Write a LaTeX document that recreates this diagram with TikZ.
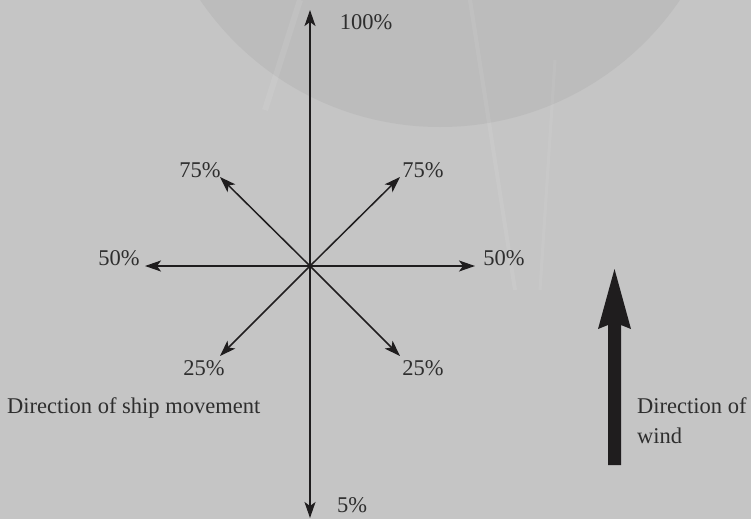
\documentclass[tikz,border=0pt]{standalone}
\usepackage{fontspec}
\setmainfont{Liberation Serif}
\usetikzlibrary{arrows.meta}
\definecolor{bg}{HTML}{C5C5C5}
\definecolor{sail}{HTML}{BCBCBC}
\definecolor{ink}{HTML}{1F1D1E}
\definecolor{txt}{HTML}{2E2E2E}
\tikzset{
  thinarrow/.style={draw=ink, line width=1.5pt, -{Stealth[length=16pt,width=11pt,inset=4pt]}},
  pct/.style={text=txt, inner sep=0pt, font=\fontsize{22.5}{26}\selectfont},
  caption/.style={text=txt, inner sep=0pt, font=\fontsize{22.5}{26}\selectfont, anchor=base west}
}
\begin{document}
\begin{tikzpicture}[x=1pt,y=-1pt]
\useasboundingbox (0,0) rectangle (751,519);
% background
\fill[bg] (0,0) rectangle (751,519);
\begin{scope}
\clip (0,0) rectangle (751,519);
\fill[sail] (440,-163) circle (290);
\draw[white,opacity=0.08,line width=6pt] (300,0) -- (265,110);
\draw[white,opacity=0.07,line width=4pt] (470,0) -- (515,290);
\draw[white,opacity=0.06,line width=3pt] (555,60) -- (540,290);
\end{scope}
% geometry
\coordinate (c) at (310,266);
\coordinate (n) at (310,10);
\coordinate (s) at (310,518);
\coordinate (e) at (475,266);
\coordinate (w) at (145,266);
\coordinate (ne) at (400,177);
\coordinate (nw) at (220,177);
\coordinate (se) at (400,356);
\coordinate (sw) at (220,356);
\foreach \t in {n,s,e,w,ne,nw,se,sw} \draw[thinarrow] (c) -- (\t);
% labels
\node[pct] (l100) at (366,22) {100\%};
\node[pct] (l75l) at (200,170) {75\%};
\node[pct] (l75r) at (423,170) {75\%};
\node[pct] (l50l) at (119,258) {50\%};
\node[pct] (l50r) at (504,258) {50\%};
\node[pct] (l25l) at (204,368) {25\%};
\node[pct] (l25r) at (423,368) {25\%};
\node[pct] (l5) at (352,505) {5\%};
\node[caption] (ship) at (7,413) {Direction of ship movement};
% wind arrow
\fill[ink] (614.5,269) -- (631,329) -- (621,325) -- (621,465) -- (608,465) -- (608,325) -- (598,329) -- cycle;
\node[caption] (wind1) at (637,413) {Direction of};
\node[caption] (wind2) at (637,443) {wind};
\end{tikzpicture}
\end{document}
